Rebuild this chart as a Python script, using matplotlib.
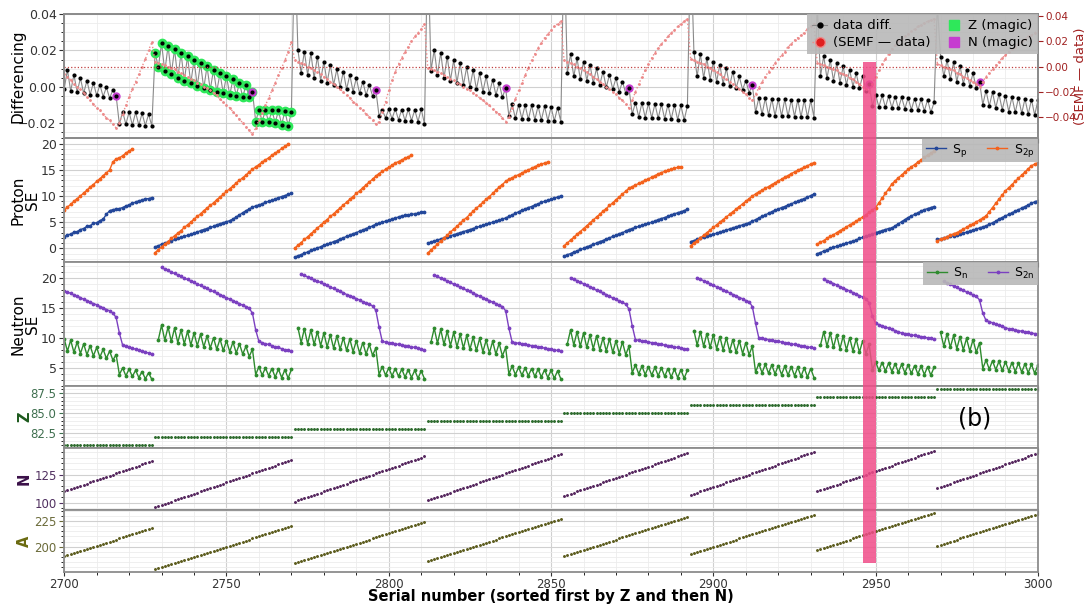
import numpy as np
import matplotlib
matplotlib.use("Agg")
import matplotlib.pyplot as plt
from matplotlib.ticker import MultipleLocator, AutoMinorLocator
from matplotlib.lines import Line2D
from matplotlib.patches import Rectangle
from matplotlib.transforms import blended_transform_factory

nan = np.nan

# isotope chains in serial order (sorted by Z, then N)
Z_chain = [81, 82, 83, 84, 85, 86, 87, 88]
N_first = [110, 96, 101, 102, 106, 107, 110, 113]
chain_len = [28, 43, 41, 42, 39, 39, 37, 32]
serial_first = 2700

# differenced data (x 1e-3), one list per chain
diff_data = [
    [-1.0, 9.3, -2.3, 6.6, -2.8, 4.8, -3.5, 3.5, -4.2, 2.2, -4.7, 1.2, -5.3, -0.2, -6.2, -1.6, -4.9,
     -20.5, -13.5, -20.5, -13.8, -21.0, -14.0, -21.0, -14.5, -21.2, -15.0, -21.4],
    [18.8, 10.8, 23.9, 8.5, 22.5, 7.0, 20.7, 4.7, 18.5, 3.4, 16.7, 2.0, 14.8, 0.5, 13.0, -0.8, 11.2,
     -1.6, 9.3, -2.6, 7.5, -3.5, 6.0, -4.4, 4.2, -5.0, 2.4, -5.7, 1.1, -5.7, -2.6,
     -19.0, -12.6, -19.0, -12.6, -19.5, -12.6, -19.9, -12.9, -20.8, -13.1, -21.4, -14.0],
    [80, 20.3, 7.5, 19.4, 6.6, 18.5, 4.8, 16.6, 3.5, 13.9, 2.4, 12.1, 1.1, 9.7, -0.2, 8.4, -1.3, 6.6,
     -2.6, 4.8, -3.5, 2.9, -4.4, 1.1, -5.0, -1.6,
     -15.9, -12.6, -17.0, -12.3, -17.5, -12.1, -18.0, -12.4, -18.5, -12.2, -18.5, -12.6, -19.0, -12.2, -20.3],
    [80, 8.9, 20.3, 6.6, 18.8, 4.7, 16.6, 3.5, 14.8, 2.4, 13.0, 1.1, 10.8, -0.2, 9.3, -1.3, 7.5, -2.6,
     5.7, -3.5, 3.9, -4.4, 2.0, -5.7, -0.7,
     -15.9, -9.5, -17.2, -9.8, -17.5, -10.0, -17.8, -10.2, -18.0, -10.5, -18.2, -10.7, -18.5, -11.0,
     -18.7, -11.3, -19.0],
    [80, 7.5, 17.9, 5.7, 15.7, 4.2, 13.9, 3.5, 12.1, 2.0, 10.2, 1.1, 8.4, -0.2, 6.6, -1.3, 4.8, -2.6,
     2.9, -3.5, -0.7,
     -15.0, -8.6, -16.5, -8.8, -16.8, -9.0, -17.0, -9.3, -17.2, -9.5, -17.5, -9.7, -17.7, -10.0, -18.0,
     -10.2, -18.2, -10.5],
    [80, 19.4, 5.7, 18.1, 4.8, 15.7, 3.9, 13.9, 2.9, 12.1, 1.7, 10.2, 0.6, 8.4, -0.7, 5.7, -1.6, 3.5,
     -3.1, 1.1,
     -14.0, -6.0, -15.0, -6.2, -15.5, -6.5, -15.8, -6.7, -16.0, -6.8, -16.2, -7.0, -16.3, -7.1, -16.5,
     -7.2, -16.6, -7.4, -16.8],
    [45, 5.7, 17.0, 4.7, 14.8, 3.5, 13.0, 2.4, 11.2, 1.1, 9.3, 0.2, 7.5, -0.7, 6.0, -2.0, 1.7,
     -10.4, -4.4, -11.0, -4.6, -11.2, -5.0, -11.5, -5.3, -11.8, -5.7, -12.0, -6.0, -12.5, -6.4, -12.8,
     -6.7, -13.2, -7.0, -14.0, -8.5],
    [45, 16.6, 5.7, 14.8, 4.2, 13.4, 2.9, 11.5, 1.7, 9.3, 0.6, 7.5, -0.7, 2.9,
     -9.8, -2.0, -10.5, -3.0, -11.5, -4.0, -12.5, -4.8, -13.5, -5.5, -14.0, -6.0, -14.5, -6.5, -15.0,
     -7.0, -15.5, -7.2],
]

# SEMF minus data (x 1e-3)
semf_data = [
    [-6, -8, -11, -14, -16, -18, -21, -24, -27, -30, -33, -35, -38, -41, -43, -46, -49,
     -45, -38, -31, -24, -18, -12, -6, 0, 6, 13, 19.5],
    [4, 3, 2, 1, 0, -1, -2, -4, -5, -7, -8, -10, -11, -13, -14, -16, -17, -19, -21, -23, -26, -28,
     -31, -33, -36, -39, -42, -45, -48, -51, -54,
     -49, -43, -37, -31, -25, -19, -13, -7, -1, 5, 12, 19.5],
    [5, 4, 3, 2, 0, -1, -3, -4, -6, -8, -10, -12, -14, -16, -18, -20.5, -23, -25, -28, -30, -33, -35,
     -38, -40, -43, -46,
     -44, -36, -28, -19, -11, -4, 2, 7, 12, 16, 20, 24, 27, 30, 34],
    [-1, -2, -3, -4, -5, -7, -8, -10, -11, -13, -14, -16, -18, -19, -21, -23, -25, -27, -29, -31, -34,
     -36, -38, -41, -44,
     -40, -33, -26, -19, -13, -7, -1, 5, 10, 15, 19, 23, 26, 29, 32, 34, 36],
    [5, 4, 3, 2, 0, -1, -3, -4, -6, -8, -10, -12, -14, -16, -18, -20, -22, -25, -27, -30, -33,
     -27, -20, -14, -8, -3, 2, 7, 11, 15, 18, 21, 24, 27, 29, 32, 34, 36, 38],
    [6, 5, 4, 3, 2, 0, -1, -3, -4, -6, -8, -10, -12, -14, -16, -18, -20, -22, -25, -27,
     -22, -17, -12, -8, -4, -1, 3, 6, 9, 12, 16, 18, 21, 23, 25, 27, 30, 32, 34],
    [3, 2, 1, 0, -1, -2, -3, -5, -6, -7, -9, -10, -12, -14, -16, -18, -20,
     -14, -8, -3, 2, 6, 10, 14, 17, 20, 22, 24, 26, 28, 30, 32, 33, 35, 36, 37, 38],
    [2, 1, 0, -1, -2, -3, -5, -6, -8, -9, -11, -12, -14, -16,
     -12, -8, -5, -2, 1, 4, 7, 9, 12, 14, 16, 18, 20, 22, 24, 25, 27, 28],
]

# proton separation energies (MeV)
Sp = [
    [2.2, 2.6, 2.7, 3.1, 3.2, 3.6, 3.8, 4.2, 4.3, 4.8, 4.9, 5.3, 5.6, 6.5, 7.2, 7.4, 7.5, 7.6, 7.8,
     8.1, 8.3, 8.7, 8.8, 9.1, 9.2, 9.5, 9.5, 9.7],
    [0.3, 0.5, 0.8, 1.0, 1.2, 1.4, 1.7, 1.9, 2.1, 2.3, 2.5, 2.7, 2.9, 3.1, 3.4, 3.6, 3.8, 4.0, 4.2,
     4.5, 4.7, 4.9, 5.1, 5.3, 5.6, 6.0, 6.4, 6.8, 7.2, 7.5, 7.9, 8.1, 8.3, 8.5, 8.8, 9.0, 9.2, 9.4,
     9.7, 9.9, 10.1, 10.3, 10.5],
    [-1.7, -1.4, -1.2, -0.9, -0.7, -0.4, -0.2, 0.1, 0.3, 0.6, 0.8, 1.0, 1.3, 1.5, 1.8, 2.0, 2.3, 2.5,
     2.8, 3.0, 3.3, 3.5, 3.8, 4.0, 4.3, 4.6, 4.8, 5.0, 5.2, 5.4, 5.6, 5.8, 6.0, 6.2, 6.3, 6.4, 6.5,
     6.6, 6.7, 6.9, 7.0],
    [1.0, 1.2, 1.4, 1.6, 1.8, 2.0, 2.2, 2.4, 2.6, 2.8, 3.0, 3.2, 3.4, 3.6, 3.8, 4.0, 4.2, 4.4, 4.6,
     4.8, 5.0, 5.2, 5.4, 5.6, 5.8, 6.1, 6.4, 6.7, 7.0, 7.3, 7.5, 7.8, 8.0, 8.3, 8.5, 8.8, 9.0, 9.2,
     9.4, 9.6, 9.8, 10.0],
    [-1.5, -1.2, -1.0, -0.7, -0.5, -0.2, 0.0, 0.3, 0.5, 0.8, 1.0, 1.3, 1.5, 1.8, 2.0, 2.3, 2.5, 2.8,
     3.0, 3.3, 3.6, 3.8, 4.0, 4.2, 4.4, 4.6, 4.8, 5.0, 5.2, 5.5, 5.7, 5.9, 6.1, 6.4, 6.6, 6.8, 7.0,
     7.2, 7.5],
    [1.3, 1.5, 1.7, 1.9, 2.1, 2.3, 2.5, 2.7, 2.9, 3.1, 3.3, 3.5, 3.7, 3.9, 4.1, 4.3, 4.5, 4.7, 4.9,
     5.2, 5.5, 5.8, 6.1, 6.4, 6.7, 7.0, 7.3, 7.5, 7.8, 8.0, 8.3, 8.5, 8.8, 9.0, 9.3, 9.5, 9.8, 10.1,
     10.4],
    [-1.0, -0.8, -0.5, -0.3, 0.0, 0.2, 0.4, 0.6, 0.8, 1.0, 1.2, 1.4, 1.6, 1.9, 2.1, 2.3, 2.5, 2.7,
     3.0, 3.2, 3.4, 3.6, 3.8, 3.9, 4.3, 4.7, 5.1, 5.5, 5.9, 6.2, 6.5, 6.8, 7.1, 7.4, 7.6, 7.8, 8.0],
    [1.7, 1.8, 2.0, 2.1, 2.3, 2.4, 2.6, 2.7, 2.9, 3.1, 3.3, 3.5, 3.7, 3.9, 4.1, 4.3, 4.6, 4.9, 5.2,
     5.6, 5.9, 6.2, 6.5, 6.8, 7.1, 7.4, 7.7, 8.0, 8.3, 8.6, 8.9, 9.1],
]

S2p = [
    [7.3, 7.9, 8.4, 9.0, 9.5, 10.0, 10.6, 11.1, 11.7, 12.2, 12.8, 13.3, 13.9, 14.4, 15.0, 16.5, 17.1,
     17.3, 17.7, 18.2, 18.6, 19.0, nan, nan, nan, nan, nan, nan],
    [-0.8, -0.3, 0.3, 0.8, 1.3, 1.9, 2.4, 2.9, 3.4, 4.0, 4.5, 5.0, 5.6, 6.1, 6.6, 7.2, 7.7, 8.2, 8.7,
     9.3, 9.8, 10.3, 10.9, 11.4, 11.9, 12.5, 13.0, 13.5, 14.0, 14.6, 15.1, 15.6, 16.0, 16.5, 16.9,
     17.3, 17.8, 18.2, 18.6, 19.1, 19.5, 19.9, nan],
    [0.0, 0.6, 1.1, 1.7, 2.2, 2.8, 3.3, 3.9, 4.4, 5.0, 5.5, 6.1, 6.6, 7.2, 7.7, 8.3, 8.8, 9.4, 9.9,
     10.5, 11.0, 11.6, 12.1, 12.7, 13.2, 13.8, 14.3, 14.7, 15.1, 15.5, 15.9, 16.3, 16.6, 16.9, 17.2,
     17.5, 17.8, nan, nan, nan, nan],
    [-0.9, -0.3, 0.2, 0.8, 1.4, 1.9, 2.5, 3.1, 3.7, 4.2, 4.8, 5.4, 5.9, 6.5, 7.1, 7.7, 8.2, 8.8, 9.4,
     9.9, 10.5, 11.1, 11.7, 12.2, 12.8, 13.2, 13.5, 13.8, 14.1, 14.4, 14.7, 15.0, 15.3, 15.6, 15.9,
     16.1, 16.3, 16.5, nan, nan, nan, nan],
    [0.5, 1.0, 1.6, 2.1, 2.7, 3.2, 3.8, 4.3, 4.9, 5.4, 6.0, 6.5, 7.1, 7.6, 8.2, 8.7, 9.3, 9.8, 10.4,
     10.9, 11.5, 11.8, 12.1, 12.4, 12.7, 13.0, 13.3, 13.6, 13.9, 14.2, 14.5, 14.7, 14.9, 15.1, 15.3,
     15.5, 15.6, nan, nan],
    [0.5, 1.0, 1.5, 2.0, 2.5, 3.0, 3.5, 4.0, 4.5, 5.0, 5.5, 6.0, 6.5, 7.0, 7.5, 8.0, 8.5, 9.0, 9.5,
     10.0, 10.4, 10.8, 11.1, 11.5, 11.8, 12.2, 12.5, 12.9, 13.2, 13.6, 13.9, 14.3, 14.6, 14.9, 15.2,
     15.5, 15.8, 16.1, 16.4],
    [0.8, 1.2, 1.5, 1.9, 2.3, 2.6, 3.0, 3.4, 3.7, 4.1, 4.5, 4.8, 5.2, 5.6, 6.0, 6.4, 6.9, 7.3, 7.8,
     8.7, 9.6, 10.5, 11.4, 12.3, 12.9, 13.5, 14.0, 14.6, 15.1, 15.6, 16.0, 16.5, 16.9, 17.4, 17.8,
     18.2, 18.6],
    [1.4, 1.7, 1.9, 2.2, 2.5, 2.8, 3.0, 3.3, 3.7, 4.0, 4.4, 4.7, 5.1, 5.4, 5.8, 6.2, 7.0, 7.8, 8.6,
     9.4, 10.2, 11.0, 11.6, 12.2, 12.8, 13.4, 14.0, 14.6, 15.2, 15.8, 16.1, 16.4],
]

# neutron separation energies (MeV)
Sn = [
    [9.8, 7.8, 9.6, 7.6, 9.3, 7.4, 9.0, 7.2, 8.7, 7.0, 8.4, 6.8, 8.1, 6.6, 7.8, 6.3, 7.2,
     3.9, 5.0, 3.7, 4.8, 3.6, 4.6, 3.4, 4.4, 3.2, 4.2, 3.1],
    [nan, 9.7, 12.1, 9.6, 11.8, 9.4, 11.6, 9.2, 11.3, 9.0, 11.1, 8.8, 10.8, 8.7, 10.6, 8.5, 10.3, 8.3,
     10.0, 8.1, 9.8, 7.9, 9.5, 7.7, 9.3, 7.5, 9.0, 7.3, 8.6, 6.9, 8.1,
     3.9, 5.2, 3.8, 5.0, 3.7, 4.9, 3.5, 4.8, 3.4, 4.7, 3.3, 4.75],
    [nan, 11.7, 9.2, 11.5, 9.0, 11.3, 8.9, 11.0, 8.7, 10.8, 8.5, 10.5, 8.3, 10.3, 8.1, 10.0, 7.9, 9.8,
     7.7, 9.5, 7.5, 9.2, 7.3, 8.9, 7.1, 8.3,
     3.9, 5.2, 3.8, 5.0, 3.7, 4.9, 3.6, 4.8, 3.5, 4.7, 3.4, 4.6, 3.3, 4.5, 3.2],
    [nan, 9.3, 11.6, 9.1, 11.4, 8.9, 11.1, 8.7, 10.9, 8.5, 10.6, 8.3, 10.4, 8.1, 10.1, 7.9, 9.9, 7.7,
     9.6, 7.5, 9.4, 7.3, 9.1, 7.0, 8.4,
     4.0, 5.3, 3.9, 5.1, 3.8, 5.0, 3.7, 4.9, 3.6, 4.8, 3.5, 4.7, 3.4, 4.6, 3.3, 4.5, 3.2],
    [nan, 9.0, 11.3, 8.8, 11.0, 8.6, 10.8, 8.4, 10.5, 8.2, 10.3, 8.0, 10.0, 7.8, 9.8, 7.6, 9.5, 7.4,
     9.3, 7.2, 8.6,
     4.2, 5.5, 4.0, 5.3, 3.9, 5.2, 3.8, 5.1, 3.7, 5.0, 3.6, 4.9, 3.5, 4.8, 3.4, 4.7, 3.3, 4.6],
    [nan, 11.2, 8.8, 11.0, 8.6, 10.7, 8.4, 10.5, 8.2, 10.2, 8.0, 10.0, 7.8, 9.7, 7.6, 9.5, 7.4, 9.2,
     7.2, 8.6,
     4.3, 5.7, 4.2, 5.6, 4.1, 5.5, 4.0, 5.4, 3.9, 5.3, 3.8, 5.2, 3.7, 5.1, 3.6, 5.0, 3.5, 4.9, 3.4],
    [nan, 8.8, 11.0, 8.6, 10.8, 8.4, 10.5, 8.2, 10.3, 8.0, 10.0, 7.8, 9.8, 7.6, 9.5, 7.4, 8.9,
     4.7, 6.0, 4.6, 5.9, 4.5, 5.8, 4.4, 5.7, 4.3, 5.6, 4.2, 5.5, 4.1, 5.4, 4.0, 5.3, 3.9, 5.2, 3.8, 5.1],
    [nan, 10.9, 8.6, 10.7, 8.4, 10.4, 8.2, 10.2, 8.0, 9.9, 7.8, 9.7, 7.6, 9.2,
     4.9, 6.3, 4.8, 6.2, 4.7, 6.1, 4.6, 6.0, 4.5, 5.9, 4.4, 5.8, 4.3, 5.7, 4.2, 5.6, 4.1, 5.5],
]

S2n = [
    [17.8, 17.6, 17.4, 17.1, 16.9, 16.7, 16.4, 16.2, 15.9, 15.7, 15.5, 15.2, 15.0, 14.7, 14.5, 14.1,
     13.4, 10.8, 8.8, 8.6, 8.4, 8.3, 8.1, 7.9, 7.8, 7.6, 7.5, 7.3],
    [nan, nan, 21.7, 21.4, 21.2, 20.9, 20.7, 20.4, 20.2, 19.9, 19.7, 19.4, 19.2, 18.9, 18.7, 18.4,
     18.2, 17.9, 17.7, 17.4, 17.2, 16.9, 16.7, 16.4, 16.2, 15.9, 15.7, 15.4, 15.2, 14.9,
     14.1, 11.3, 9.4, 9.2, 9.0, 8.9, 8.7, 8.5, 8.4, 8.2, 8.0, 7.9, 7.75],
    [nan, nan, 20.6, 20.4, 20.1, 19.9, 19.6, 19.4, 19.2, 18.9, 18.7, 18.4, 18.2, 18.0, 17.7, 17.5,
     17.2, 17.0, 16.8, 16.5, 16.3, 16.0, 15.8, 15.6, 15.3,
     14.6, 11.8, 9.4, 9.3, 9.2, 9.1, 9.0, 8.9, 8.8, 8.7, 8.6, 8.5, 8.4, 8.3, 8.1, 8.0],
    [nan, nan, 20.4, 20.2, 19.9, 19.7, 19.4, 19.2, 18.9, 18.7, 18.4, 18.2, 17.9, 17.7, 17.4, 17.2,
     16.9, 16.7, 16.4, 16.2, 15.9, 15.7, 15.4, 15.2,
     14.5, 11.6, 9.3, 9.2, 9.1, 9.0, 8.9, 8.8, 8.7, 8.6, 8.5, 8.4, 8.3, 8.2, 8.1, 8.0, 7.9, 7.8],
    [nan, nan, 20.0, 19.7, 19.5, 19.2, 19.0, 18.7, 18.4, 18.2, 17.9, 17.7, 17.4, 17.2, 16.9, 16.6,
     16.4, 16.1, 15.9, 15.6,
     14.8, 12.0, 9.7, 9.6, 9.5, 9.4, 9.3, 9.2, 9.1, 9.0, 8.9, 8.8, 8.7, 8.6, 8.5, 8.4, 8.3, 8.2, 8.1],
    [nan, nan, 20.0, 19.7, 19.5, 19.2, 19.0, 18.7, 18.5, 18.2, 18.0, 17.7, 17.5, 17.2, 17.0, 16.7,
     16.5, 16.2, 16.0,
     15.2, 12.4, 10.0, 9.9, 9.8, 9.7, 9.6, 9.5, 9.4, 9.3, 9.2, 9.1, 9.0, 8.9, 8.8, 8.7, 8.6, 8.5,
     8.4, 8.3],
    [nan, nan, 19.8, 19.5, 19.3, 19.0, 18.8, 18.5, 18.3, 18.0, 17.8, 17.5, 17.3, 17.0, 16.8, 16.5,
     15.8, 13.6, 12.4, 12.2, 12.0, 11.8, 11.6, 11.4, 11.2, 11.0, 10.8, 10.7, 10.6, 10.5, 10.4, 10.3,
     10.2, 10.1, 10.0, 9.9, 9.8],
    [nan, nan, 19.4, 19.1, 18.9, 18.6, 18.4, 18.1, 17.9, 17.6, 17.4, 17.1, 16.9,
     16.3, 14.1, 12.9, 12.7, 12.5, 12.3, 12.1, 11.9, 11.7, 11.5, 11.4, 11.3, 11.2, 11.1, 11.0, 10.9,
     10.8, 10.7, 10.6],
]

# serial number, Z and N of every nuclide in each chain
serials, Zs, Ns = [], [], []
start = serial_first
for z, n0, m in zip(Z_chain, N_first, chain_len):
    serials.append(np.arange(start, start + m))
    Zs.append(np.full(m, z))
    Ns.append(np.arange(n0, n0 + m))
    start += m

x_all = np.concatenate(serials)
z_all = np.concatenate(Zs)
n_all = np.concatenate(Ns)
a_all = z_all + n_all
diff_all = np.concatenate([np.array(d) for d in diff_data]) * 1e-3
semf_all = np.concatenate([np.array(d) for d in semf_data]) * 1e-3

c_sp, c_s2p = '#23479a', '#f4621c'
c_sn, c_s2n = '#2e8b2e', '#7b40c0'
c_semf = '#ec8a8a'
spine_c = '#8c8c8c'

fig = plt.figure(figsize=(10.88, 6.06), dpi=100)
gs = fig.add_gridspec(6, 1, height_ratios=[2, 2, 2, 1, 1, 1], hspace=0,
                      left=0.059, right=0.954, top=0.977, bottom=0.056)
ax0 = fig.add_subplot(gs[0])
axes = [ax0] + [fig.add_subplot(gs[i], sharex=ax0) for i in range(1, 6)]
ax_d, ax_p, ax_n, ax_z, ax_nn, ax_a = axes

for ax in axes:
    ax.set_xlim(2700, 3000)
    ax.xaxis.set_major_locator(MultipleLocator(50))
    ax.xaxis.set_minor_locator(MultipleLocator(10))
    ax.yaxis.set_minor_locator(AutoMinorLocator())
    ax.grid(which='major', color='#d0d0d0', lw=0.8)
    ax.grid(which='minor', color='#ececec', lw=0.6)
    ax.set_axisbelow(True)
    for s in ax.spines.values():
        s.set_color(spine_c)
        s.set_linewidth(1.3)
    ax.tick_params(labelsize=9, colors='#333333', labelbottom=False, pad=2)
    ax.tick_params(which='minor', length=2)
ax_a.tick_params(labelbottom=True)

# --- differencing panel ---
ax_d.plot(x_all, diff_all, color='#8a8a8a', lw=0.8, zorder=2)
zmag = z_all == 82
nmag = n_all == 126
ax_d.plot(x_all[zmag], diff_all[zmag], 'o', color='#2ee85a', ms=6, zorder=3)
ax_d.plot(x_all[nmag], diff_all[nmag], 'o', color='#c63cd0', ms=5, zorder=3)
ax_d.plot(x_all, diff_all, '.', color='k', ms=4, zorder=4)
ax_d.set_ylim(-0.028, 0.04)
ax_d.yaxis.set_major_locator(MultipleLocator(0.02))
ax_d.set_ylabel('Differencing', fontsize=11)
ax_d.yaxis.set_label_coords(-0.040, 0.5)

axr = ax_d.twinx()
axr.plot(x_all, semf_all, ls=':', color=c_semf, lw=1.0, marker='.', ms=2)
axr.axhline(0, color='#c04040', ls=':', lw=0.9)
axr.set_ylim(-0.057, 0.042)
axr.yaxis.set_major_locator(MultipleLocator(0.02))
axr.tick_params(labelsize=7.5, colors='#a02020', pad=1.5)
axr.set_ylabel('(SEMF — data)', color='#a02020', fontsize=9.5)
axr.yaxis.set_label_coords(1.037, 0.5)
for s in axr.spines.values():
    s.set_color(spine_c)
    s.set_linewidth(1.3)

leg_handles = [
    Line2D([], [], color='#8a8a8a', lw=0.8, marker='.', mfc='k', mec='k', ms=7, label='data diff.'),
    Line2D([], [], color=c_semf, ls=':', lw=1, marker='o', mfc='#e02020', mec=c_semf, ms=7,
           label='(SEMF — data)'),
    Line2D([], [], ls='none', marker='s', color='#2ee85a', ms=7, label='Z (magic)'),
    Line2D([], [], ls='none', marker='s', color='#c63cd0', ms=7, label='N (magic)'),
]
axr.legend(handles=leg_handles, ncol=2, loc='upper right', borderaxespad=0, fontsize=9.5,
           facecolor='#b8b8b8', edgecolor='none', framealpha=0.9, fancybox=False,
           columnspacing=1.2, handlelength=1.1, handletextpad=0.5, borderpad=0.4,
           labelspacing=0.3)

# --- proton and neutron separation energies ---
for i, xs in enumerate(serials):
    ax_p.plot(xs, Sp[i], '-', color=c_sp, lw=1, marker='.', ms=3.5,
              label=r'$\mathrm{S_p}$' if i == 0 else None)
    ax_p.plot(xs, S2p[i], '-', color=c_s2p, lw=1, marker='.', ms=3.5,
              label=r'$\mathrm{S_{2p}}$' if i == 0 else None)
    ax_n.plot(xs, Sn[i], '-', color=c_sn, lw=1, marker='.', ms=3.5,
              label=r'$\mathrm{S_n}$' if i == 0 else None)
    ax_n.plot(xs, S2n[i], '-', color=c_s2n, lw=1, marker='.', ms=3.5,
              label=r'$\mathrm{S_{2n}}$' if i == 0 else None)

for ax in (ax_p, ax_n):
    ax.legend(ncol=2, loc='upper right', borderaxespad=0, fontsize=9, facecolor='#b8b8b8',
              edgecolor='none', framealpha=0.9, fancybox=False, columnspacing=1.6,
              handlelength=1.6, handletextpad=0.5, borderpad=0.3)
    ax.yaxis.set_major_locator(MultipleLocator(5))
ax_p.set_ylim(-2.6, 21.1)
ax_n.set_ylim(2.0, 22.6)
ax_p.set_ylabel('Proton\nSE', fontsize=11, linespacing=0.95)
ax_n.set_ylabel('Neutron\nSE', fontsize=11, linespacing=0.95)
ax_p.yaxis.set_label_coords(-0.025, 0.5)
ax_n.yaxis.set_label_coords(-0.025, 0.5)

# --- Z, N, A of each nuclide ---
ax_z.plot(x_all, z_all, '.', color='#2e6b2e', ms=2.2)
ax_nn.plot(x_all, n_all, '.', color='#55265e', ms=2.2)
ax_a.plot(x_all, a_all, '.', color='#5c5c1e', ms=2.2)
ax_z.yaxis.set_major_locator(MultipleLocator(2.5))
ax_nn.yaxis.set_major_locator(MultipleLocator(25))
ax_a.yaxis.set_major_locator(MultipleLocator(25))
ax_z.tick_params(axis='y', colors='#3f6f4f', labelsize=8.5)
ax_nn.tick_params(axis='y', colors='#503060', labelsize=8.5)
ax_a.tick_params(axis='y', colors='#6b6b3a', labelsize=8.5)
ax_z.set_ylabel('Z', fontsize=10.5, fontweight='bold', color='#1d5a1d')
ax_nn.set_ylabel('N', fontsize=10.5, fontweight='bold', color='#3a1048')
ax_a.set_ylabel('A', fontsize=10.5, fontweight='bold', color='#6a6a10')
for ax in (ax_z, ax_nn, ax_a):
    ax.yaxis.set_label_coords(-0.033, 0.5)
ax_a.tick_params(axis='x', colors='#333333', labelsize=8.5, pad=1, length=3)
ax_a.set_xlabel('Serial number (sorted first by Z and then N)', fontsize=10.5, fontweight='bold')
ax_a.xaxis.set_label_coords(0.5, -0.27)

fig.text(0.896, 0.31, '(b)', fontsize=17, ha='center', va='center')

# highlighted serial range across all panels
tr = blended_transform_factory(ax_a.transData, fig.transFigure)
fig.add_artist(Rectangle((2946.0, 0.071), 4.2, 0.827, transform=tr, color='#f04c88',
                         alpha=0.85, lw=0, zorder=20))

fig.savefig('out.png', dpi=100)
